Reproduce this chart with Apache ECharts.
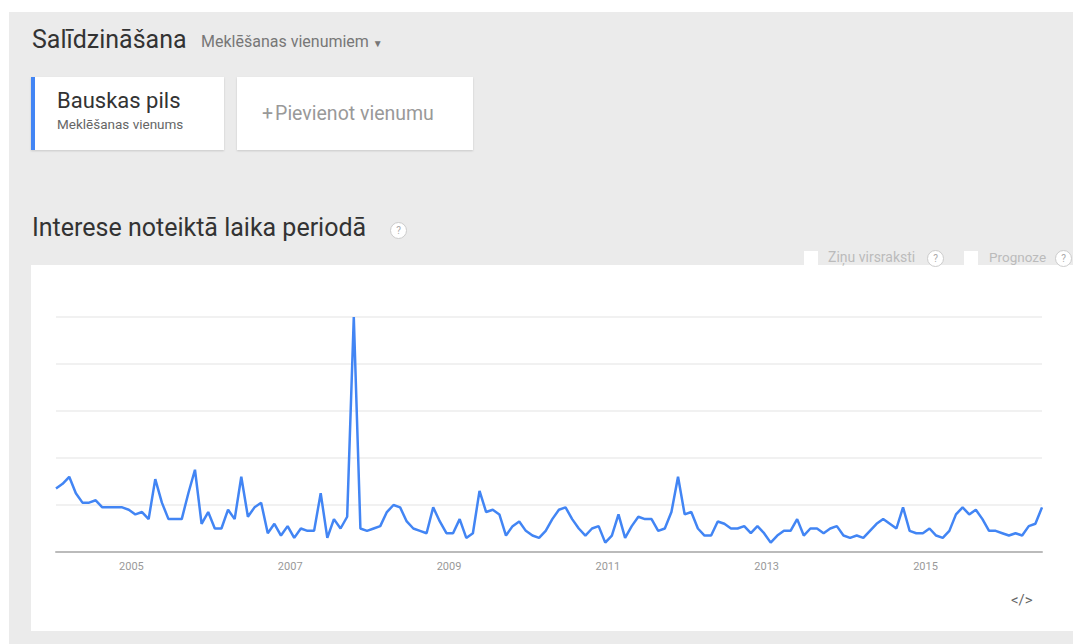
<!DOCTYPE html>
<html>
<head>
<meta charset="utf-8">
<script src="https://cdn.jsdelivr.net/npm/echarts@6/dist/echarts.min.js"></script>
<style>
  body { margin: 0; width: 1077px; height: 644px; background: #fff; font-family: Roboto, "Noto Sans", sans-serif; position: relative; overflow: hidden; }
  .panel { position: absolute; left: 9px; top: 12px; width: 1064px; height: 632px; background: #ebebeb; }
  .abs { position: absolute; white-space: nowrap; }
  .title { font-size: 25px; color: #333; }
  .sub { font-size: 16px; color: #777; }
  .card { position: absolute; background: #fff; box-shadow: 0 1px 2px rgba(0,0,0,0.15); }
  .help { position: absolute; width: 15px; height: 15px; border: 1px solid #ccc; border-radius: 50%; background: #fff; color: #aaa; font-size: 10px; text-align: center; line-height: 15px; }
  .check { position: absolute; width: 14px; height: 14px; background: #fff; }
  .opt { color: #bbb; }
  #chart { position: absolute; left: 31px; top: 265px; width: 1042px; height: 366px; background: #fff; }
</style>
</head>
<body>
<div class="panel"></div>

<div class="abs title" style="left:32px; top:25px;">Salīdzināšana</div>
<div class="abs sub" style="left:201px; top:32px;">Meklēšanas vienumiem <span style="font-size:10px;">&#9660;</span></div>

<div class="card" style="left:31px; top:77px; width:193px; height:73px; border-left:4px solid #4285f4; box-sizing:border-box;">
  <div class="abs" style="left:22px; top:11px; font-size:22px; color:#333;">Bauskas pils</div>
  <div class="abs" style="left:22px; top:39px; font-size:13.5px; color:#666;">Meklēšanas vienums</div>
</div>
<div class="card" style="left:237px; top:77px; width:236px; height:73px;">
  <div class="abs" style="left:25px; top:25px; font-size:19.5px; color:#999;">+<span style="margin-left:2px;">Pievienot vienumu</span></div>
</div>

<div class="abs title" style="left:32px; top:213px;">Interese noteiktā laika periodā</div>
<div class="help" style="left:390px; top:222px;">?</div>

<div id="chart"></div>

<div class="check" style="left:804px; top:251px;"></div>
<div class="abs opt" style="left:828px; top:249px; font-size:14px;">Ziņu virsraksti</div>
<div class="help" style="left:927px; top:250px;">?</div>
<div class="check" style="left:964px; top:251px;"></div>
<div class="abs opt" style="left:989px; top:249px; font-size:13.5px;">Prognoze</div>
<div class="help" style="left:1055px; top:250px;">?</div>

<div class="abs" style="left:1011px; top:591px; font-size:15px; color:#666;">&lt;/&gt;</div>

<script>
// mēneši 2004-01 .. 2016-06
const months = [];
for (let y = 2004; y <= 2016; y++) {
  for (let m = 1; m <= 12; m++) {
    if (y === 2016 && m > 6) break;
    months.push(y + '-' + (m < 10 ? '0' + m : m));
  }
}

const interest = [
  27, 29, 32, 25, 21, 21, 22, 19, 19, 19, 19, 18, 16, 17, 14, 31, 21, 14, 14, 14,
  25, 35, 12, 17, 10, 10, 18, 14, 32, 15,
  19, 21, 8, 12, 7, 11, 6, 10, 9, 9, 25, 6, 14, 10, 15, 100, 10, 9, 10, 11,
  17, 20, 19, 13, 10, 9, 8, 19, 13,
  8, 8, 14, 6, 8, 26, 17, 18, 16, 7, 11, 13, 9, 7, 6, 9, 14, 18, 19, 14,
  10, 7, 10, 11, 4, 7, 16, 6, 11, 15,
  14, 14, 9, 10, 17, 32, 16, 17, 10, 7, 7, 13, 12, 10, 10, 11, 8, 11, 8, 4,
  7, 9, 9, 14, 7, 10, 10, 8, 10,
  11, 7, 6, 7, 6, 9, 12, 14, 12, 10, 19, 9, 8, 8, 10, 7, 6, 9, 16, 19,
  16, 18, 14, 9, 9, 8, 7, 8, 7, 11, 12, 19
];

const yearLabels = ['2005', '2007', '2009', '2011', '2013', '2015'];

const chart = echarts.init(document.getElementById('chart'), null, { renderer: 'svg' });
chart.setOption({
  animation: false,
  grid: { left: 25, right: 31, top: 52, bottom: 79 },
  xAxis: {
    type: 'category',
    boundaryGap: false,
    data: months,
    axisLine: { lineStyle: { color: '#bbb', width: 2 } },
    axisTick: { show: false },
    axisLabel: {
      color: '#999',
      fontSize: 11,
      fontFamily: 'Roboto',
      margin: 9,
      padding: [0, 8, 0, 0],
      interval: function (idx, val) {
        return val.slice(5) === '01' && yearLabels.indexOf(val.slice(0, 4)) >= 0;
      },
      formatter: function (val) { return val.slice(0, 4); }
    }
  },
  yAxis: {
    type: 'value',
    min: 0,
    max: 100,
    interval: 20,
    axisLine: { show: false },
    axisTick: { show: false },
    axisLabel: { show: false },
    splitLine: { lineStyle: { color: '#ececec', width: 1.5 } }
  },
  series: [
    {
      name: 'Bauskas pils',
      type: 'line',
      data: interest,
      showSymbol: false,
      lineStyle: { color: '#4285f4', width: 2.5 },
      itemStyle: { color: '#4285f4' }
    }
  ]
});
</script>
</body>
</html>
